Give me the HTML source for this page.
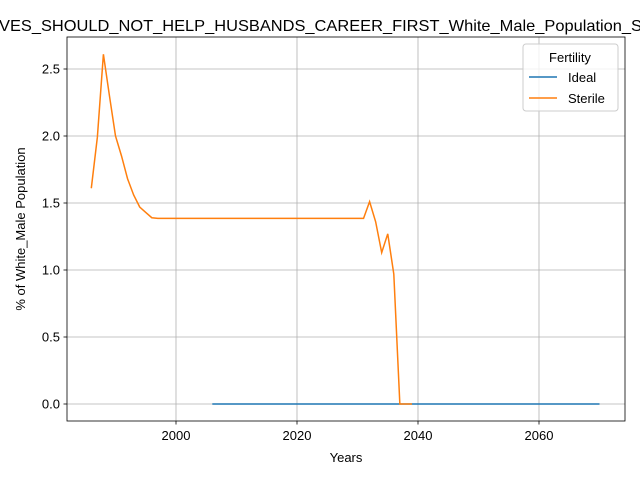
<!DOCTYPE html>
<html><head><meta charset="utf-8"><style>body{margin:0;background:#fff}svg{display:block;font-family:"Liberation Sans","DejaVu Sans",sans-serif}</style></head>
<body>
<svg id="chart" width="640" height="480">
<text x="-1" y="31" font-size="16" textLength="643" lengthAdjust="spacingAndGlyphs">VES_SHOULD_NOT_HELP_HUSBANDS_CAREER_FIRST_White_Male_Population_S</text>
<g id="grid"></g><g id="series"></g><g id="axes"></g>
<rect x="67" y="37" width="558" height="384" fill="none" stroke="#000" stroke-width="0.8"/>
<text x="346" y="462" font-size="13" text-anchor="middle">Years</text>
<text transform="translate(25,229) rotate(-90)" font-size="13" text-anchor="middle">% of White_Male Population</text>
<g>
<rect x="523" y="44" width="95" height="67" rx="3" fill="#fff" fill-opacity="0.8" stroke="#ccc"/>
<text x="570" y="62" font-size="13" text-anchor="middle">Fertility</text>
<line x1="529" y1="77" x2="557" y2="77" stroke="#1f77b4" stroke-width="1.5"/>
<text x="568" y="82" font-size="13">Ideal</text>
<line x1="529" y1="98" x2="557" y2="98" stroke="#ff7f0e" stroke-width="1.5"/>
<text x="568" y="103" font-size="13">Sterile</text>
</g>
</svg>
<script>
const idealYears=[2006,2070];
const idealValues=[0,0];
const sterileYears=[1986,1987,1988,1989,1990,1991,1992,1993,1994,1995,1996,1997,2031,2032,2033,2034,2035,2036,2037,2038,2039];
const sterileValues=[1.61,1.99,2.61,2.3,2.0,1.85,1.68,1.56,1.47,1.43,1.39,1.385,1.385,1.51,1.36,1.13,1.27,0.97,0,0,0];
const xTicks=[2000,2020,2040,2060];
const yTicks=[0,0.5,1,1.5,2,2.5];
const yTickLabels=["0.0","0.5","1.0","1.5","2.0","2.5"];
const X=v=>176+(v-2000)*6.05;
const Y=v=>404-v*134;
const NS="http://www.w3.org/2000/svg";
function mk(tag,attrs,parent){const e=document.createElementNS(NS,tag);for(const k in attrs)e.setAttribute(k,attrs[k]);parent.appendChild(e);return e;}
const grid=document.getElementById('grid'),axes=document.getElementById('axes'),series=document.getElementById('series');
xTicks.forEach(t=>{
  const g=mk('line',{x1:X(t),x2:X(t),y1:37,y2:421,stroke:'#b0b0b0','stroke-width':0.8},grid);
  
  
  mk('line',{x1:X(t),x2:X(t),y1:421,y2:424.5,stroke:'#000','stroke-width':0.8},axes);
  const l=mk('text',{x:X(t),y:440,'font-size':13,'text-anchor':'middle'},axes);
  l.textContent=t;
  
  
});
yTicks.forEach((t,i)=>{
  const g=mk('line',{x1:67,x2:625,y1:Y(t),y2:Y(t),stroke:'#b0b0b0','stroke-width':0.8},grid);
  
  
  mk('line',{x1:63.5,x2:67,y1:Y(t),y2:Y(t),stroke:'#000','stroke-width':0.8},axes);
  const l=mk('text',{x:60,y:Y(t)+4.5,'font-size':13,'text-anchor':'end'},axes);
  l.textContent=yTickLabels[i];
  
  
});
function line(xs,ys,color,name){
  const p=mk('polyline',{points:xs.map((x,i)=>X(x)+','+Y(ys[i])).join(' '),fill:'none',stroke:color,'stroke-width':1.5},series);
  
  
}
line(idealYears,idealValues,'#1f77b4','ideal-line');
line(sterileYears,sterileValues,'#ff7f0e','sterile-line');
</script>
</body></html>
